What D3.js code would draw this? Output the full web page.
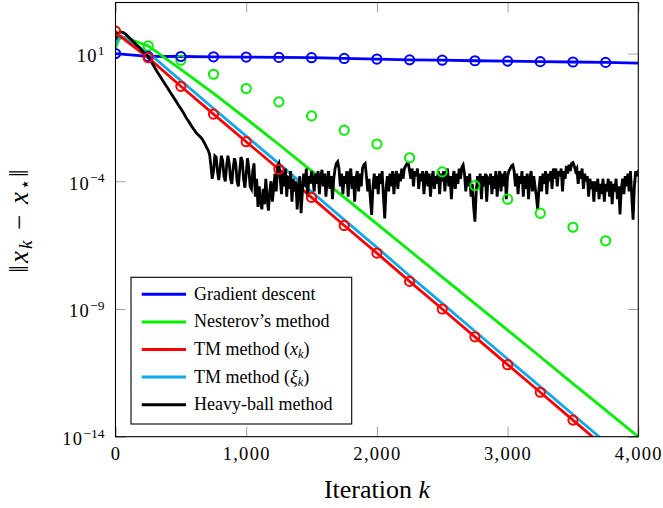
<!DOCTYPE html>
<html>
<head>
<meta charset="utf-8">
<script src="https://cdn.jsdelivr.net/npm/d3@7"></script>
<style>
  html, body { margin: 0; padding: 0; background: #fff; }
  svg { display: block; }
  svg text { font-family: "Liberation Serif", "Times New Roman", serif; }
</style>
</head>
<body>
<div id="chart"></div>
<script>
// ---------------- DATA (log10 of ||x_k - x*||) ----------------
const markerIters = [0,250,500,750,1000,1250,1500,1750,2000,2250,2500,2750,3000,3250,3500,3750];

const gradientIters = [0,250,500,750,1000,1250,1500,1750,2000,2250,2500,2750,3000,3250,3500,3750,4000];
const gradientLog   = [1.0,0.89,0.885,0.875,0.863,0.85,0.84,0.81,0.785,0.755,0.74,0.72,0.705,0.685,0.67,0.655,0.63];

const nesterovIters = [0,20,40,70,250,500,750,1000,1250,1500,1750,2000,2250,2500,2750,3000,3250,3500,3750,4000];
const nesterovLog   = [1.2,1.5,1.62,1.63,1.30,0.38,-0.56,-1.55,-2.56,-3.59,-4.63,-5.67,-6.71,-7.75,-8.79,-9.83,-10.87,-11.92,-12.96,-14.0];
// Nesterov markers (plotted separately)
const nesterovMarkLog = [1.88,1.30,0.74,0.19,-0.37,-0.89,-1.44,-2.0,-2.54,-3.08,-3.63,-4.17,-4.70,-5.25,-5.80,-6.33];

const tmXIters = [0,30,250,500,750,1000,1250,1500,1750,2000,2250,2500,2750,3000,3250,3500,3750];
const tmXLog   = [1.88,1.7,0.84,-0.28,-1.37,-2.45,-3.53,-4.63,-5.73,-6.81,-7.92,-9.0,-10.09,-11.18,-12.26,-13.35,-14.44];
const tmXMarkLog = [1.88,0.84,-0.28,-1.37,-2.45,-3.53,-4.63,-5.73,-6.81,-7.92,-9.0,-10.09,-11.18,-12.26,-13.35];

const tmXiIters = [0,20,45,250,500,750,1000,1250,1500,1750,2000,2250,2500,2750,3000,3250,3500,3750];
const tmXiLog   = [1.35,1.6,1.68,1.04,-0.06,-1.15,-2.23,-3.31,-4.41,-5.51,-6.59,-7.70,-8.78,-9.87,-10.96,-12.04,-13.13,-14.22];

// Heavy-ball: k = 0..700 every 20 iterations, then k = 710..4000 every 10
const heavyEarlyLog = [
 1.55,1.80,1.85,1.82,1.75,1.65,1.55,1.45,1.35,1.25,
 1.13,1.03,0.95,0.80,0.62,0.45,0.28,0.12,-0.04,-0.20,
 -0.36,-0.52,-0.68,-0.84,-1.00,-1.16,-1.32,-1.50,-1.66,-1.82,
 -1.97,-2.12,-2.22,-2.32,-2.50,-2.70
];
const heavyLateLog = [
 // 710-1060
 -2.8,-2.95,-3.4,-3.9,-3.6,-3.0,-3.05,-3.6,-3.95,-3.5,
 -3.0,-3.2,-3.8,-4.0,-3.4,-3.0,-3.3,-3.9,-4.1,-3.5,
 -3.1,-3.3,-4.0,-4.2,-3.6,-3.05,-3.2,-3.9,-4.25,-3.7,
 -3.1,-3.5,-4.2,-4.3,-3.6,-3.3,
 // 1070-1250
 -4.6,-3.9,-5.0,-4.2,-4.8,-5.1,-4.3,-4.9,-3.9,-4.7,
 -5.15,-4.4,-4.0,-4.8,-4.3,-3.7,-4.4,-3.4,-3.3,
 // 1260-1500
 -3.9,-4.5,-3.6,-4.2,-3.5,-4.6,-3.8,-4.3,-3.6,-4.8,
 -3.9,-4.4,-4.0,-5.1,-4.3,-3.8,-5.25,-4.4,-3.7,-4.2,
 -3.5,-4.6,-3.8,-4.1,-3.6,
 // 1510-2000
 -3.9,-4.4,-3.7,-4.1,-3.6,-4.5,-3.8,-3.55,-4.2,-3.7,
 -4.6,-3.9,-3.6,-4.3,-3.8,-4.7,-3.9,-3.5,-3.3,-3.23,
 -3.5,-4.2,-3.7,-4.5,-3.8,-4.1,-3.6,-4.6,-3.7,-3.5,
 -4.3,-3.8,-4.8,-3.9,-3.6,-4.4,-3.7,-4.2,-3.5,-3.35,
 -3.3,-3.8,-4.4,-3.9,-4.7,-5.32,-4.2,-3.7,-4.3,-3.8,
 // 2010-2500
 -4.5,-3.7,-4.1,-3.6,-4.6,-5.45,-4.3,-3.8,-4.4,-3.7,
 -4.2,-3.6,-4.5,-3.8,-3.6,-4.3,-3.7,-4.0,-3.5,-3.9,
 -3.5,-3.4,-3.3,-3.29,-3.6,-3.9,-3.5,-4.2,-3.6,-3.8,
 -3.5,-4.3,-3.7,-4.0,-3.6,-4.5,-3.8,-3.6,-4.2,-3.7,
 -4.6,-3.9,-3.6,-4.3,-3.8,-4.1,-3.6,-4.5,-3.7,-4.0,
 // 2510-3000
 -3.6,-4.4,-3.7,-3.5,-4.2,-3.8,-4.7,-3.9,-3.6,-4.3,
 -3.7,-4.1,-3.5,-3.9,-3.45,-3.36,-3.7,-4.4,-3.8,-4.2,
 -3.7,-4.6,-4.1,-5.0,-5.58,-4.4,-3.8,-4.3,-3.7,-4.7,
 -3.8,-4.2,-3.7,-4.8,-3.9,-4.0,-3.7,-4.5,-3.8,-4.3,
 -3.6,-4.6,-3.9,-3.6,-4.4,-3.7,-4.2,-3.6,-4.7,-3.8,
 // 3010-3500
 -3.6,-3.5,-3.4,-3.36,-3.6,-4.2,-3.7,-4.5,-3.8,-4.1,
 -3.6,-4.6,-3.8,-4.3,-3.7,-4.7,-3.9,-3.6,-4.4,-3.8,
 -4.2,-4.6,-5.1,-4.3,-3.8,-4.4,-3.7,-4.1,-3.6,-4.5,
 -3.7,-4.0,-3.6,-4.3,-3.5,-3.9,-3.5,-4.2,-3.6,-3.8,
 -3.5,-4.4,-3.6,-3.9,-3.4,-3.7,-3.35,-3.6,-3.3,-3.27,
 // 3510-4000
 -3.4,-3.6,-3.5,-4.1,-3.6,-3.9,-3.5,-4.3,-3.7,-4.0,
 -3.8,-4.6,-3.9,-4.3,-4.0,-4.8,-4.0,-4.4,-3.9,-4.7,
 -4.1,-4.5,-3.9,-4.8,-4.1,-4.4,-3.9,-4.6,-4.0,-4.9,
 -4.1,-4.4,-3.9,-4.7,-4.2,-5.3,-4.3,-3.9,-4.5,-3.8,
 -4.2,-3.7,-4.4,-3.6,-4.6,-5.5,-4.2,-3.6,-3.8,-3.56
];

const xTicks = [0,1000,2000,3000,4000];
const yTickExps = [1,-4,-9,-14];

const legendItems = [
  {label: "Gradient descent", color: "#0000ff"},
  {label: "Nesterov\u2019s method", color: "#00f000"},
  {label: "TM method (", math: "x", sub: "k", color: "#ff0000"},
  {label: "TM method (", math: "\u03be", sub: "k", color: "#12a8ec"},
  {label: "Heavy-ball method", color: "#000000"}
];

// ---------------- LAYOUT ----------------
const W = 663, H = 508;
const L = 115.5, R = 638.3, T = 2.5, B = 436.7;
const serif = "\"Liberation Serif\", \"Times New Roman\", serif";

const svg = d3.select("#chart").append("svg").attr("width", W).attr("height", H);

const x = d3.scaleLinear().domain([0,4000]).range([L,R]);
const y = d3.scaleLog().domain([1e-14,1e3]).range([B,T]);

svg.append("defs").append("clipPath").attr("id","clip")
  .append("rect").attr("x",L).attr("y",T).attr("width",R-L).attr("height",B-T);

// axes (ticks inward, gray)
const yTickVals = yTickExps.map(e => Math.pow(10,e));
const gx = svg.append("g").attr("transform",`translate(0,${B})`)
  .call(d3.axisBottom(x).tickValues(xTicks).tickSize(-10).tickFormat(d3.format(",")));
const gxt = svg.append("g").attr("transform",`translate(0,${T})`)
  .call(d3.axisTop(x).tickValues(xTicks).tickSize(-10).tickFormat(""));
const gy = svg.append("g").attr("transform",`translate(${L},0)`)
  .call(d3.axisLeft(y).tickValues(yTickVals).tickSize(-10).tickFormat(""));
const gyr = svg.append("g").attr("transform",`translate(${R},0)`)
  .call(d3.axisRight(y).tickValues(yTickVals).tickSize(-10).tickFormat(""));
[gx,gxt,gy,gyr].forEach(g => {
  g.attr("font-family", null).attr("font-size", null);
  g.select(".domain").remove();
  g.selectAll(".tick line").attr("stroke","#a0a0a0").attr("stroke-width",1);
});
gx.selectAll(".tick text")
  .attr("y", 23.3).attr("dy", 0)
  .style("font-family", serif).style("font-size", "18.5px").attr("letter-spacing", 1.3)
  .attr("fill","#000");

gy.selectAll(".tick text").remove();
gy.selectAll(".tick").each(function(d){
  const e = Math.round(Math.log10(d));
  const t = d3.select(this).append("text")
    .attr("x",-11).attr("y",8)
    .attr("text-anchor","end")
    .style("font-family",serif).style("font-size","18.5px").attr("fill","#000");
  t.append("tspan").text("10").attr("letter-spacing",1.3);
  t.append("tspan").attr("dy",-7.5).style("font-size","13.5px")
    .text(e < 0 ? "\u2212" + Math.abs(e) : String(e));
});

// ---------------- SERIES ----------------
const line = d3.line().x(d => x(d[0])).y(d => y(Math.pow(10,d[1])));
const plot = svg.append("g").attr("clip-path","url(#clip)");

function drawLine(iters, logs, color){
  plot.append("path")
    .datum(iters.map((k,i) => [k, logs[i]]))
    .attr("d", line).attr("fill","none")
    .attr("stroke", color).attr("stroke-width", 2.8);
}
function drawMarkers(iters, logs, color){
  plot.selectAll(null).data(iters.map((k,i)=>[k,logs[i]])).enter()
    .append("circle")
    .attr("cx", d => x(d[0])).attr("cy", d => y(Math.pow(10,d[1])))
    .attr("r", 4.6).attr("fill","none")
    .attr("stroke", color).attr("stroke-width", 2);
}

const heavyIters = heavyEarlyLog.map((v,i) => i*20).concat(heavyLateLog.map((v,i) => 710 + i*10));
const heavyLog = heavyEarlyLog.concat(heavyLateLog);

drawLine(gradientIters, gradientLog, "#0000ff");
drawLine(nesterovIters, nesterovLog, "#00f000");
drawLine(tmXiIters, tmXiLog, "#12a8ec");
drawLine(tmXIters, tmXLog, "#ff0000");
drawLine(heavyIters, heavyLog, "#000000");

drawMarkers(markerIters, nesterovMarkLog, "#00f000");
drawMarkers(markerIters, gradientLog.slice(0, markerIters.length), "#0000ff");
drawMarkers(markerIters.slice(0, tmXMarkLog.length), tmXMarkLog, "#ff0000");

// frame
svg.append("rect").attr("x",L).attr("y",T).attr("width",R-L).attr("height",B-T)
  .attr("fill","none").attr("stroke","#000").attr("stroke-width",1.1);

// ---------------- LEGEND ----------------
const lg = svg.append("g");
lg.append("rect").attr("x",131).attr("y",277.3).attr("width",220.7).attr("height",146.7)
  .attr("fill","#fff").attr("stroke","#000").attr("stroke-width",1.1);
legendItems.forEach((it,i) => {
  const yy = 294.3 + i*27.6;
  lg.append("line").attr("x1",141.7).attr("x2",186).attr("y1",yy).attr("y2",yy)
    .attr("stroke", it.color).attr("stroke-width",3);
  const t = lg.append("text").attr("x",194).attr("y",yy+5.5)
    .style("font-family",serif).style("font-size","18px").attr("fill","#000");
  t.append("tspan").text(it.label);
  if (it.math) {
    t.append("tspan").style("font-style","italic").text(it.math);
    t.append("tspan").style("font-style","italic").style("font-size","12.5px").attr("dy",3).text(it.sub);
    t.append("tspan").attr("dy",-3).text(")");
  }
});

// ---------------- AXIS LABELS ----------------
const xl = svg.append("text").attr("x",377).attr("y",498)
  .attr("text-anchor","middle").style("font-family",serif).style("font-size","26px").attr("fill","#000");
xl.append("tspan").text("Iteration ");
xl.append("tspan").style("font-style","italic").text("k");

const yl = svg.append("text").attr("transform","translate(28,220) rotate(-90)")
  .attr("text-anchor","middle").style("font-family",serif).style("font-size","27px")
  .attr("letter-spacing", 2).attr("fill","#000");
yl.append("tspan").text("\u2016");
yl.append("tspan").style("font-style","italic").text("x");
yl.append("tspan").style("font-style","italic").style("font-size","19px").attr("dy",4).text("k");
yl.append("tspan").attr("dy",-4).text(" \u2212 ");
yl.append("tspan").style("font-style","italic").text("x");
yl.append("tspan").style("font-size","18px").attr("dy",3).text("\u22c6");
yl.append("tspan").attr("dy",-3).text("\u2016");
</script>
</body>
</html>
